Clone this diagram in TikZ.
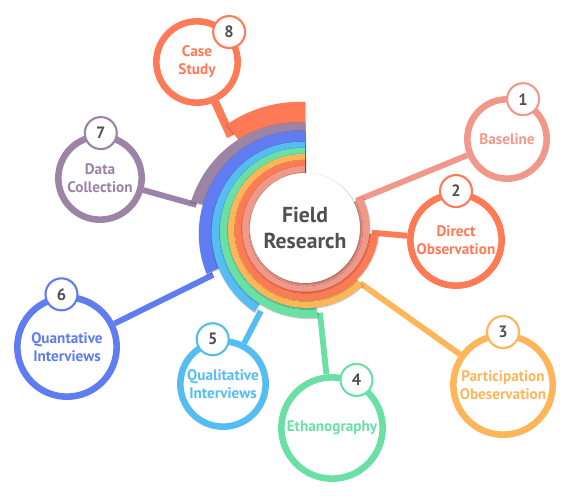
\documentclass[tikz,border=0pt]{standalone}
\usepackage{fontspec}
\setmainfont{PT Sans}
\usetikzlibrary{positioning,backgrounds,shadows.blur}
\definecolor{cBase}{RGB}{240,153,138}
\definecolor{cDirect}{RGB}{255,122,85}
\definecolor{cPart}{RGB}{255,181,90}
\definecolor{cEthno}{RGB}{107,224,165}
\definecolor{cQual}{RGB}{85,189,242}
\definecolor{cQuant}{RGB}{95,124,240}
\definecolor{cData}{RGB}{155,132,166}
\definecolor{cCase}{RGB}{255,123,87}
\definecolor{dText}{RGB}{80,80,80}
\tikzset{
  softshadow/.style={blur shadow={shadow xshift=0.8pt, shadow yshift=-1pt,
                     shadow blur radius=1.6pt, shadow opacity=35}},
  ringshadow/.style={blur shadow={shadow xshift=0.3pt, shadow yshift=-0.6pt,
                     shadow blur radius=0.8pt, shadow opacity=30}},
  bubble/.style={circle, draw=#1, fill=white, line width=5.6pt, inner sep=0pt,
                 align=center, text=#1, font=\fontsize{13}{15.5}\selectfont\bfseries,
                 softshadow},
  badge/.style={circle, draw=#1, fill=white, line width=1.8pt, inner sep=0pt,
                minimum size=0.96cm, text=dText, font=\fontsize{14}{16}\selectfont\bfseries},
  spoke/.style={draw=#1, line width=5pt},
  hub/.style={circle, fill=white, inner sep=0pt, minimum size=3.3cm, align=center,
              text=dText, font=\fontsize{18.5}{22}\selectfont\bfseries, softshadow},
}
% one coloured ring segment: colour, radius at the top, growth per degree, end angle
\newcommand{\HubRing}[4]{%
  \fill[#1, ringshadow] (0,0) -- plot[domain=90:#4, samples=40, variable=\t]
    (\t:{#2+#3*(\t-90)}) -- cycle;}

\begin{document}
\begin{tikzpicture}[x=0.03cm, y=0.03cm]
  \useasboundingbox (0,0) rectangle (572,-500);

  % --- rings round the hub, outer ones first ---
  \begin{scope}[shift={(305,-228)}]
    \HubRing{cCase}{126}{0.10}{127}
    \HubRing{cData}{105}{0.155}{167}
    \HubRing{cQuant}{97}{0.10}{205}
    \HubRing{cQual}{86}{0.08}{239}
    \HubRing{cEthno}{80}{0.055}{278}
    \HubRing{cPart}{74}{0.033}{315}
    \HubRing{cDirect}{68}{0.022}{355}
    \HubRing{cBase}{62}{0.01}{388}
    % ring ends where the spokes leave
    \coordinate (e1) at (28:58);
    \coordinate (e2) at (356:67);
    \coordinate (e3) at (315:78);
    \coordinate (e4) at (280:86);
    \coordinate (e5) at (242:94);
    \coordinate (e6) at (207:103);
    \coordinate (e7) at (168:111);
    \coordinate (e8) at (129:118);
  \end{scope}
  \node[hub] (hub) at (305,-228) {Field\\Research};

  % --- method bubbles ---
  \node[bubble=cBase, minimum size=2.38cm] (bl) at (507,-139) {Baseline};
  \node[bubble=cDirect, minimum size=2.74cm] (dob) at (456,-240) {Direct\\Observation};
  \node[bubble=cPart, minimum size=2.98cm] (po) at (503,-385) {Participation\\Obeservation};
  \node[bubble=cEthno, minimum size=3.04cm] (eth) at (332,-428) {Ethanography};
  \node[bubble=cQual, minimum size=2.56cm] (qual) at (223,-384) {Qualitative\\Interviews};
  \node[bubble=cQuant, minimum size=2.98cm] (quan) at (67,-347) {Quantative\\Interviews};
  \node[bubble=cData, minimum size=2.50cm] (dc) at (100,-178) {Data\\Collection};
  \node[bubble=cCase, minimum size=2.44cm] (cs) at (197,-62) {Case\\Study};

  % --- number badges ---
  \node[badge=cBase] (b1) at (bl.68) {1};
  \node[badge=cDirect] (b2) at (dob.90) {2};
  \node[badge=cPart] (b3) at (po.90) {3};
  \node[badge=cEthno] (b4) at (eth.63) {4};
  \node[badge=cQual] (b5) at (qual.103) {5};
  \node[badge=cQuant] (b6) at (quan.96) {6};
  \node[badge=cData] (b7) at (dc.89) {7};
  \node[badge=cCase] (b8) at (cs.43) {8};

  % --- spokes, behind the rings ---
  \begin{scope}[on background layer]
    \draw[spoke=cBase] (e1) -- (bl);
    \draw[spoke=cDirect] (e2) -- (dob);
    \draw[spoke=cPart] (e3) -- (po);
    \draw[spoke=cEthno] (e4) -- (eth);
    \draw[spoke=cQual] (e5) -- (qual);
    \draw[spoke=cQuant] (e6) -- (quan);
    \draw[spoke=cData] (e7) -- (dc);
    \draw[spoke=cCase, line width=7pt] (e8) -- (cs);
  \end{scope}
\end{tikzpicture}
\end{document}
